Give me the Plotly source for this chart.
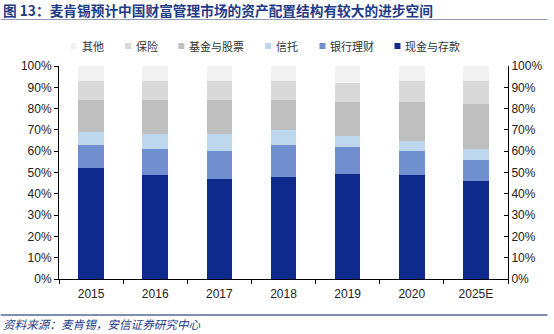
import plotly.graph_objects as go

years = ['2015', '2016', '2017', '2018', '2019', '2020', '2025E']
cash = [52, 49, 47, 48, 49.5, 49, 46]
bank = [11, 12, 13, 15, 12.5, 11, 10]
trust = [6, 7, 8, 7, 5, 5, 5]
fund = [15, 16, 16, 14, 16, 18, 21]
insurance = [9, 9, 9, 9, 9, 10, 11]
other = [7, 7, 7, 7, 8, 7, 7]

series_names = ['现金与存款', '银行理财', '信托', '基金与股票', '保险', '其他']
series_values = [cash, bank, trust, fund, insurance, other]
series_colors = ['#0E2A8C', '#6F8FCF', '#BDD7EE', '#BFBFBF', '#D9D9D9', '#F2F2F2']

y_ticks = [0, 10, 20, 30, 40, 50, 60, 70, 80, 90, 100]
y_tick_labels = ['0%', '10%', '20%', '30%', '40%', '50%', '60%', '70%', '80%', '90%', '100%']

title_text = '图 13：麦肯锡预计中国财富管理市场的资产配置结构有较大的进步空间'
source_text = '资料来源：麦肯锡，安信证券研究中心'

W, H = 554, 334
L, R, T, B = 59, 40, 66, 55
PW, PH = W - L - R, H - T - B


def px(x):
    return (x - L) / PW


def py(y):
    return (H - B - y) / PH


fig = go.Figure()
for name, vals, col in zip(series_names, series_values, series_colors):
    fig.add_trace(go.Bar(x=years, y=vals, name=name, marker=dict(color=col, line=dict(width=0)),
                         showlegend=False))

# invisible trace for the right axis
fig.add_trace(go.Scatter(x=years, y=[None] * len(years), yaxis='y2', showlegend=False,
                         hoverinfo='skip', mode='markers'))

axis_font = dict(family='Liberation Sans, Arial, sans-serif', size=12, color='#222222')

fig.update_layout(
    width=W, height=H,
    margin=dict(l=L, r=R, t=T, b=B),
    paper_bgcolor='white', plot_bgcolor='white',
    barmode='stack', bargap=0.6,
    xaxis=dict(type='category', showline=True, linecolor='#000000', linewidth=1,
               ticks='outside', ticklen=4, tickcolor='#000000', tickson='boundaries',
               tickfont=axis_font, showgrid=False, zeroline=False, ticklabelstandoff=4),
    yaxis=dict(range=[0, 100], tickmode='array', tickvals=y_ticks, ticktext=y_tick_labels,
               showline=True, linecolor='#000000', linewidth=1, ticks='outside', ticklen=4,
               tickcolor='#000000', tickfont=axis_font, showgrid=False, zeroline=False),
    yaxis2=dict(range=[0, 100], tickmode='array', tickvals=y_ticks, ticktext=y_tick_labels,
                overlaying='y', side='right',
                showline=True, linecolor='#000000', linewidth=1, ticks='inside', ticklen=4,
                tickcolor='#000000', tickfont=axis_font, showgrid=False, zeroline=False),
    showlegend=False,
)

# legend (left to right: 其他 ... 现金与存款)
legend_marker_x = [74, 129, 183, 271, 326, 402]
legend_order = list(range(len(series_names)))[::-1]
legend_y = 46
for mx, idx in zip(legend_marker_x, legend_order):
    fig.add_shape(type='rect', xref='paper', yref='paper', xsizemode='pixel', ysizemode='pixel',
                  xanchor=px(mx), yanchor=py(legend_y), x0=-3, x1=3, y0=-3, y1=3,
                  fillcolor=series_colors[idx], line=dict(width=0))
    fig.add_annotation(x=px(mx + 6), y=py(legend_y), xref='paper', yref='paper',
                       xanchor='left', yanchor='middle', showarrow=False,
                       text=series_names[idx],
                       font=dict(family='Noto Sans CJK SC', size=11, color='#333333'))

# title
fig.add_annotation(x=px(0), y=py(10), xref='paper', yref='paper', xanchor='left', yanchor='middle',
                   showarrow=False, text='<b>' + title_text + '</b>',
                   font=dict(family='Noto Sans CJK SC', size=13.7, color='#1F3B87'))
fig.add_shape(type='line', xref='paper', yref='paper', x0=px(0), x1=px(W), y0=py(19.5), y1=py(19.5),
              line=dict(color='#8C9BB8', width=1.2))

# footer
fig.add_shape(type='line', xref='paper', yref='paper', x0=px(0), x1=px(W), y0=py(315), y1=py(315),
              line=dict(color='#7F8FB0', width=2))
fig.add_annotation(x=px(0), y=py(324), xref='paper', yref='paper', xanchor='left', yanchor='middle',
                   showarrow=False, text='<i>' + source_text + '</i>',
                   font=dict(family='Noto Sans CJK SC', size=11.6, color='#1F3B87'))

fig.write_html('out.html')
